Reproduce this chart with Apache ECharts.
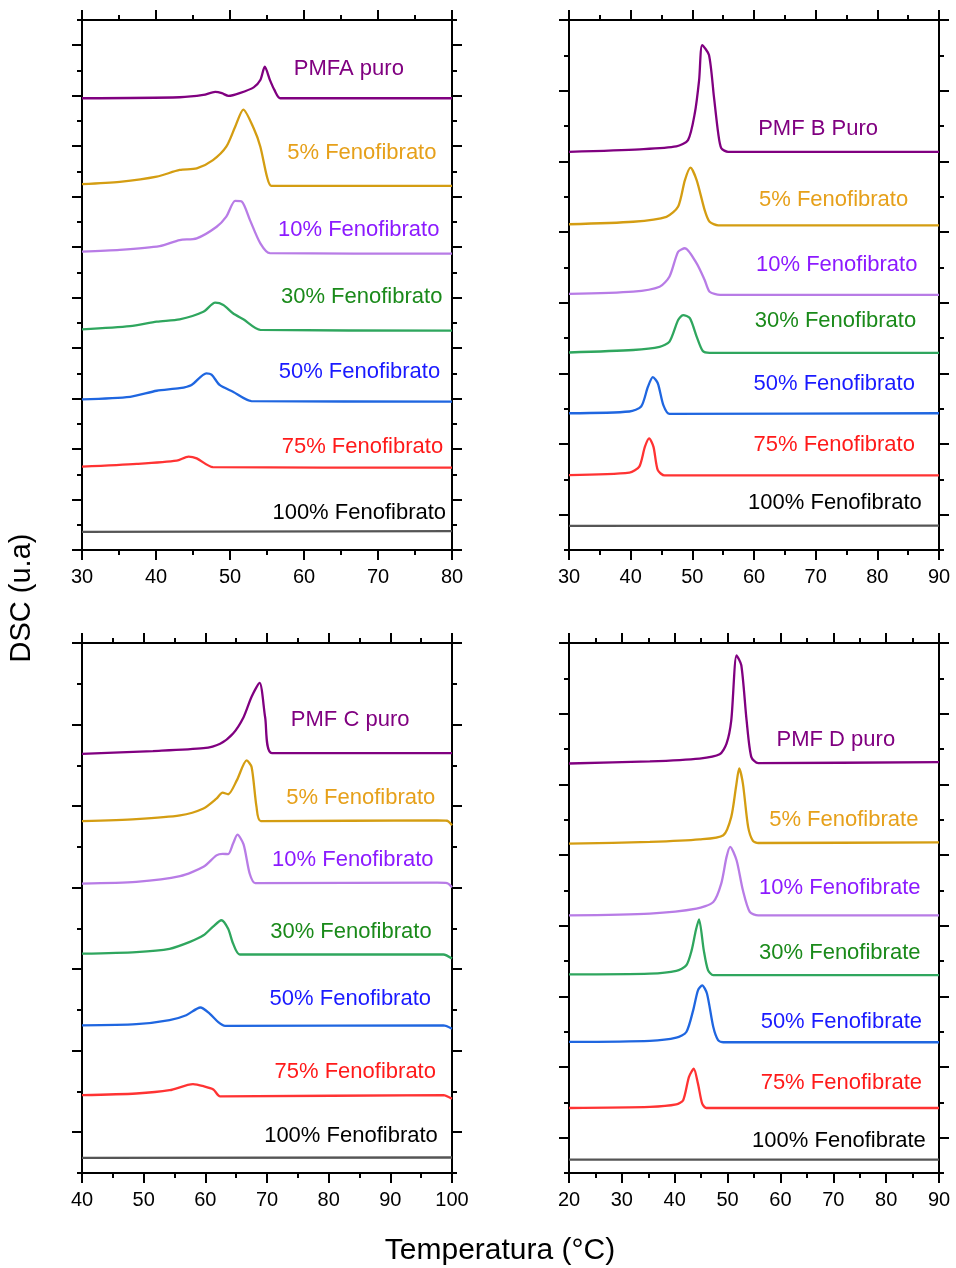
<!DOCTYPE html>
<html><head><meta charset="utf-8">
<script src="https://cdn.jsdelivr.net/npm/echarts@6/dist/echarts.min.js"></script>
<style>html,body{margin:0;padding:0;background:#fff}#c{width:956px;height:1268px}</style>
</head><body><div id="c"></div><script>
// ---------------- DATA ----------------
// Panel A (PMFA), temperature 30-80
const A_puro = [[30,17.90],[43.2,17.94],[46.4,18.03],[48.0,18.15],[48.9,18.10],[49.8,17.99],[51.3,18.10],[53.2,18.33],[54.1,18.62],[54.7,19.15],[55.4,18.62],[56.0,18.23],[56.8,17.90],[80,17.90]];
const A_5 = [[30,14.50],[35.1,14.59],[40.1,14.79],[43.2,15.06],[45.5,15.12],[47.7,15.45],[49.5,15.98],[50.7,16.77],[51.8,17.45],[53.2,16.71],[54.1,15.98],[55.0,14.79],[55.6,14.43],[80,14.43]];
const A_10 = [[30,11.82],[35.1,11.89],[40.5,12.04],[43.2,12.28],[45.5,12.35],[48.2,12.81],[49.5,13.21],[50.7,13.83],[51.6,13.80],[52.7,13.07],[54.1,12.15],[55.4,11.76],[80,11.74]];
const A_30 = [[30,8.74],[36.5,8.87],[40.1,9.05],[43.2,9.14],[46.4,9.44],[48.0,9.80],[49.1,9.71],[50.4,9.38],[51.8,9.14],[54.1,8.72],[80,8.69]];
const A_50 = [[30,5.97],[36.5,6.07],[40.1,6.31],[43.2,6.41],[44.8,6.54],[46.8,7.00],[47.5,6.95],[48.6,6.54],[50.4,6.27],[52.9,5.90],[80,5.88]];
const A_75 = [[30,3.30],[37.4,3.41],[42.8,3.54],[44.4,3.70],[45.5,3.63],[47.7,3.28],[80,3.26]];
const A_100 = [[30,0.72],[80,0.75]];
const A_labels = [[73.5,19.06,'PMFA puro'],[77.9,15.73,'5% Fenofibrato'],[78.3,12.68,'10% Fenofibrato'],[78.7,10.02,'30% Fenofibrato'],[78.4,7.05,'50% Fenofibrato'],[78.8,4.08,'75% Fenofibrato'],[79.2,1.47,'100% Fenofibrato']];
const A_yMajor = [0,2,4,6,8,10,12,14,16,18,20];
const A_yMinor = [1,3,5,7,9,11,13,15,17,19,21];

// Panel B (PMF B), temperature 30-90
const B_puro = [[30,11.27],[41.5,11.34],[47.4,11.42],[49.3,11.60],[50.4,12.36],[51.1,13.30],[51.6,14.29],[52.7,14.01],[53.5,12.83],[54.2,11.79],[54.7,11.37],[55.8,11.27],[90,11.27]];
const B_5 = [[30,9.22],[40.4,9.29],[45.8,9.43],[47.7,9.72],[48.8,10.47],[49.7,10.82],[50.7,10.47],[52.0,9.62],[52.8,9.29],[54.2,9.19],[90,9.19]];
const B_10 = [[30,7.25],[40.4,7.31],[44.7,7.45],[46.3,7.74],[47.7,8.44],[48.8,8.54],[50.7,8.11],[52.0,7.64],[52.8,7.31],[54.5,7.22],[90,7.22]];
const B_30 = [[30,5.59],[40.4,5.66],[44.7,5.75],[46.3,5.90],[47.7,6.51],[48.5,6.65],[49.6,6.56],[50.7,6.04],[51.7,5.63],[52.8,5.58],[90,5.58]];
const B_50 = [[30,3.87],[39.8,3.92],[41.7,4.06],[42.8,4.62],[43.6,4.89],[44.4,4.72],[45.3,4.10],[46.3,3.85],[90,3.87]];
const B_75 = [[30,2.12],[39.8,2.19],[41.4,2.36],[42.3,2.92],[43.0,3.16],[43.7,2.92],[44.4,2.26],[45.5,2.11],[90,2.11]];
const B_100 = [[30,0.68],[90,0.69]];
const B_labels = [[80.1,11.93,'PMF B Puro'],[85.0,9.91,'5% Fenofibrato'],[86.5,8.07,'10% Fenofibrato'],[86.3,6.49,'30% Fenofibrato'],[86.1,4.70,'50% Fenofibrato'],[86.1,2.97,'75% Fenofibrato'],[87.2,1.32,'100% Fenofibrato']];
const B_yMajor = [1,3,5,7,9,11,13,15];
const B_yMinor = [0,2,4,6,8,10,12,14];

// Panel C (PMF C), temperature 40-100
const C_puro = [[40,10.28],[51.5,10.35],[59.7,10.42],[62.4,10.53],[64.5,10.78],[66.2,11.18],[67.5,11.68],[68.8,12.02],[69.7,11.18],[70.8,10.30],[100,10.30]];
const C_5 = [[40,8.63],[48.8,8.68],[55.9,8.77],[59.7,8.94],[61.8,9.18],[62.8,9.33],[63.7,9.29],[65.1,9.63],[66.7,10.12],[67.5,9.96],[68.3,8.98],[69.0,8.63],[97.6,8.65],[99.2,8.64],[100,8.53]];
const C_10 = [[40,7.10],[48.8,7.14],[55.9,7.28],[59.7,7.51],[61.8,7.79],[62.8,7.83],[63.7,7.82],[64.5,8.08],[65.2,8.30],[66.2,8.06],[67.2,7.34],[68.1,7.11],[97.6,7.12],[99.2,7.11],[100,7.01]];
const C_30 = [[40,5.38],[48.8,5.42],[54.2,5.50],[57.5,5.67],[59.7,5.83],[61.3,6.05],[62.6,6.20],[63.7,5.99],[64.5,5.63],[65.6,5.36],[98.6,5.36],[100,5.26]];
const C_50 = [[40,3.62],[48.8,3.65],[54.2,3.75],[56.9,3.87],[59.2,4.06],[60.7,3.91],[62.1,3.70],[63.2,3.61],[98.6,3.62],[100,3.54]];
const C_75 = [[40,1.91],[48.8,1.95],[54.2,2.03],[58.0,2.18],[59.7,2.13],[61.3,2.05],[62.4,1.88],[98.6,1.91],[100,1.82]];
const C_100 = [[40,0.37],[100,0.38]];
const C_labels = [[93.1,11.12,'PMF C puro'],[97.3,9.20,'5% Fenofibrato'],[97.0,7.69,'10% Fenofibrato'],[96.7,5.91,'30% Fenofibrato'],[96.6,4.26,'50% Fenofibrato'],[97.4,2.48,'75% Fenofibrato'],[97.7,0.90,'100% Fenofibrato']];
const C_yMajor = [1,3,5,7,9,11,13];
const C_yMinor = [0,2,4,6,8,10,12];

// Panel D (PMF D), temperature 20-90
const D_puro = [[20,11.59],[35.3,11.65],[44.7,11.73],[48.5,11.85],[49.8,12.15],[50.7,12.81],[51.7,14.65],[52.6,14.37],[53.6,12.81],[54.5,11.77],[55.8,11.60],[90,11.63]];
const D_5 = [[20,9.32],[35.3,9.37],[44.7,9.44],[49.2,9.56],[50.7,10.08],[51.6,10.93],[52.2,11.45],[52.9,11.02],[53.9,9.79],[54.8,9.40],[55.8,9.34],[90,9.36]];
const D_10 = [[20,7.29],[35.3,7.34],[44.1,7.48],[47.3,7.67],[48.8,8.19],[49.8,8.94],[50.5,9.23],[51.7,8.85],[52.9,8.00],[54.2,7.39],[55.8,7.29],[90,7.29]];
const D_30 = [[20,5.62],[35.3,5.64],[40.3,5.72],[42.2,5.88],[43.2,6.30],[44.0,6.87],[44.6,7.18],[45.5,6.30],[46.3,5.74],[47.3,5.60],[90,5.60]];
const D_50 = [[20,3.71],[35.3,3.74],[40.3,3.83],[42.2,3.99],[43.5,4.61],[44.4,5.17],[45.2,5.31],[46.1,5.08],[47.3,4.13],[48.2,3.76],[49.2,3.70],[90,3.70]];
const D_75 = [[20,1.84],[35.3,1.87],[40.3,1.94],[41.6,2.06],[42.7,2.72],[43.6,2.95],[44.4,2.53],[45.2,1.96],[46.0,1.84],[90,1.84]];
const D_100 = [[20,0.38],[90,0.38]];
const D_labels = [[81.7,12.27,'PMF D puro'],[86.1,10.00,'5% Fenofibrate'],[86.5,8.07,'10% Fenofibrate'],[86.5,6.23,'30% Fenofibrate'],[86.8,4.27,'50% Fenofibrate'],[86.8,2.55,'75% Fenofibrate'],[87.5,0.90,'100% Fenofibrate']];
const D_yMajor = [1,3,5,7,9,11,13,15];
const D_yMinor = [0,2,4,6,8,10,12,14];

// x ranges
const A_xRange = [30, 80];
const B_xRange = [30, 90];
const C_xRange = [40, 100];
const D_xRange = [20, 90];
const yMaxes = [21, 15, 13, 15];

// ---------------- STYLE ----------------
const FONT = "'Liberation Sans', Arial, sans-serif";
const lineColors = ['#800080', '#d49d12', '#b87ce6', '#2fa65e', '#1f66e0', '#ff3333', '#555555'];
const textColors = ['#800080', '#e6a01a', '#8c1aff', '#1a8a1a', '#1a1aff', '#ff1a1a', '#000000'];
const grids = [
  {left: 82, top: 20, width: 370, height: 530},
  {left: 569, top: 20, width: 370, height: 530},
  {left: 82, top: 643, width: 370, height: 530},
  {left: 569, top: 643, width: 370, height: 530}
];
const panels = [
  {x: A_xRange, curves: [A_puro, A_5, A_10, A_30, A_50, A_75, A_100], labels: A_labels, maj: A_yMajor, min: A_yMinor},
  {x: B_xRange, curves: [B_puro, B_5, B_10, B_30, B_50, B_75, B_100], labels: B_labels, maj: B_yMajor, min: B_yMinor},
  {x: C_xRange, curves: [C_puro, C_5, C_10, C_30, C_50, C_75, C_100], labels: C_labels, maj: C_yMajor, min: C_yMinor},
  {x: D_xRange, curves: [D_puro, D_5, D_10, D_30, D_50, D_75, D_100], labels: D_labels, maj: D_yMajor, min: D_yMinor}
];

const axisLine = {show: true, onZero: false, lineStyle: {color: '#000', width: 2}};
const xAxes = [], yAxes = [], series = [];
panels.forEach((p, i) => {
  ['bottom', 'top'].forEach(pos => {
    xAxes.push({
      type: 'value', gridIndex: i, position: pos, min: p.x[0], max: p.x[1], interval: 10,
      axisLine: axisLine,
      axisTick: {show: true, inside: false, length: 10, lineStyle: {color: '#000', width: 2}},
      minorTick: {show: true, splitNumber: 2, length: 5, lineStyle: {color: '#000', width: 2}},
      axisLabel: {show: pos === 'bottom', fontSize: 20, color: '#000', fontFamily: FONT, margin: 17},
      splitLine: {show: false}, minorSplitLine: {show: false}
    });
  });
  ['left', 'right'].forEach(pos => {
    [[p.maj, 10], [p.min, 5]].forEach(([vals, len]) => {
      yAxes.push({
        type: 'value', gridIndex: i, position: pos, offset: 0, min: 0, max: yMaxes[i],
        axisLine: axisLine,
        axisTick: {show: true, inside: false, length: len, customValues: vals, lineStyle: {color: '#000', width: 2}},
        axisLabel: {show: false},
        splitLine: {show: false}
      });
    });
  });
  p.curves.forEach((c, k) => {
    series.push({
      type: 'line', xAxisIndex: 2 * i, yAxisIndex: 4 * i, data: c,
      showSymbol: false, symbol: 'none', smooth: 0.25,
      lineStyle: {color: lineColors[k], width: 2.3}, silent: true, z: 3
    });
  });
  series.push({
    type: 'scatter', xAxisIndex: 2 * i, yAxisIndex: 4 * i, symbolSize: 0, silent: true, z: 5,
    itemStyle: {opacity: 1},
    data: p.labels.map((l, k) => ({value: [l[0], l[1]], name: l[2], label: {color: textColors[k]}})),
    label: {show: true, position: 'left', distance: 0, opacity: 1, fontSize: 22, fontFamily: FONT, formatter: d => d.name}
  });
});

const chart = echarts.init(document.getElementById('c'), null, {renderer: 'canvas'});
chart.setOption({
  backgroundColor: '#fff',
  animation: false,
  grid: grids.map(g => Object.assign({containLabel: false, outerBoundsMode: 'none'}, g)),
  xAxis: xAxes,
  yAxis: yAxes,
  series: series,
  graphic: [
    {type: 'text', x: 22, y: 598, rotation: Math.PI / 2,
     style: {text: 'DSC (u.a)', fontSize: 29, fontFamily: FONT, fill: '#000', align: 'center', verticalAlign: 'middle'}},
    {type: 'text', x: 500, y: 1251,
     style: {text: 'Temperatura (°C)', fontSize: 30, fontFamily: FONT, fill: '#000', align: 'center', verticalAlign: 'middle'}}
  ]
});
</script></body></html>
